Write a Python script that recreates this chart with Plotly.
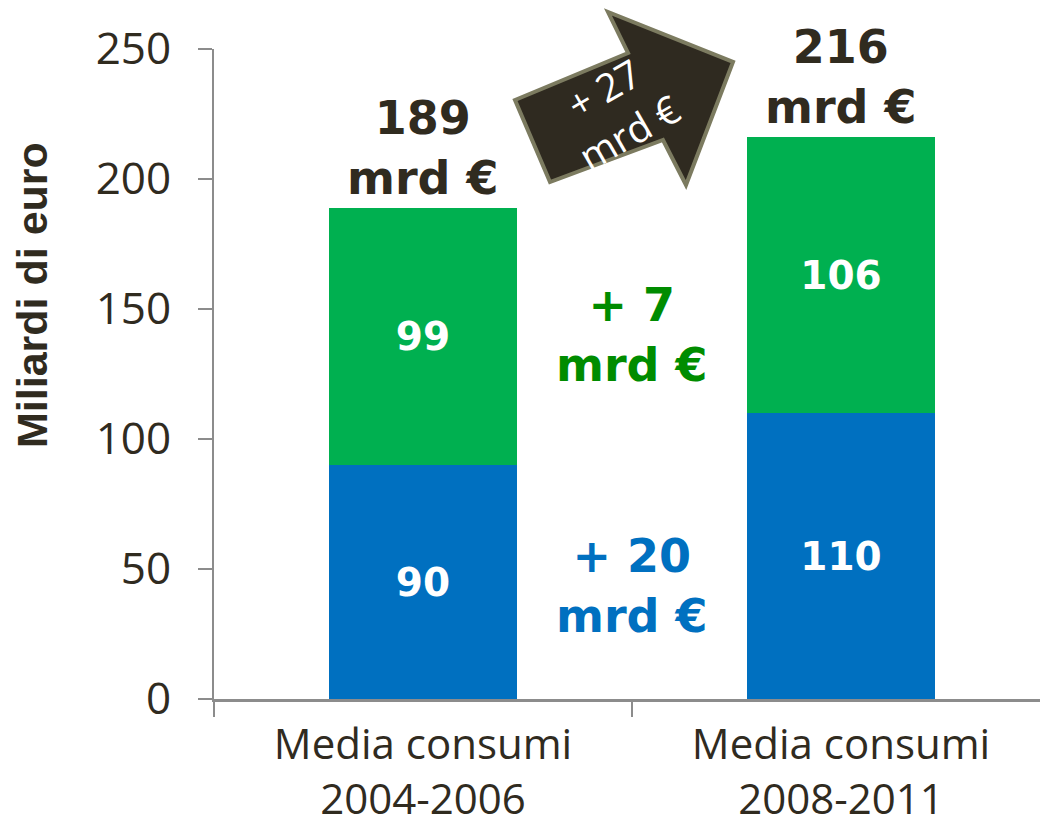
import plotly.graph_objects as go

# Data
categories = ["Media consumi<br>2004-2006", "Media consumi<br>2008-2011"]
blue_values = [90, 110]
green_values = [99, 106]
y_ticks = [0, 50, 100, 150, 200, 250]

totals = [b + g for b, g in zip(blue_values, green_values)]
delta_total = totals[1] - totals[0]
delta_blue = blue_values[1] - blue_values[0]
delta_green = green_values[1] - green_values[0]

BLUE = "#0070C0"
GREEN = "#00B050"
DARK = "#302B1F"
AXIS = "#8C8C8C"

W, H = 1040, 822
ML, MR, MT, MB = 214, 0, 49, 123
PW, PH = W - ML - MR, H - MT - MB


def px(x, y):
    """Pixel position on the page -> paper coordinates."""
    return (x - ML) / PW, (H - MB - y) / PH


bar_text = dict(family="DejaVu Sans", size=39, color="white", weight="bold")

fig = go.Figure()
fig.add_trace(go.Bar(
    x=categories, y=blue_values, marker=dict(color=BLUE, line=dict(width=0)),
    width=0.45, text=blue_values, textposition="inside",
    insidetextanchor="middle", textangle=0, textfont=bar_text,
    hoverinfo="skip",
))
fig.add_trace(go.Bar(
    x=categories, y=green_values, marker=dict(color=GREEN, line=dict(width=0)),
    width=0.45, text=green_values, textposition="inside",
    insidetextanchor="middle", textangle=0, textfont=bar_text,
    hoverinfo="skip",
))

annotations = []
bold = dict(family="DejaVu Sans", size=46, weight="bold")

# totals above each bar
for cat, tot in zip(categories, totals):
    annotations.append(dict(
        x=cat, y=tot, xref="x", yref="y", text=f"{tot}<br>mrd €",
        showarrow=False, yanchor="bottom", yshift=1,
        font=dict(bold, color=DARK),
    ))

# segment increases between the bars
annotations.append(dict(
    x=0.5, y=140, xref="x", yref="y", text=f"+ {delta_green}<br>mrd €",
    showarrow=False, font=dict(bold, color="#008C00"),
))
annotations.append(dict(
    x=0.5, y=43.5, xref="x", yref="y", text=f"+ {delta_blue}<br>mrd €",
    showarrow=False, font=dict(bold, color=BLUE),
))

# axis title
tx, ty = px(32, 295)
annotations.append(dict(
    x=tx, y=ty, xref="paper", yref="paper", text="Miliardi di euro",
    textangle=-90, showarrow=False, xanchor="center", yanchor="middle",
    font=dict(family="Liberation Sans", size=43, weight="bold", color=DARK),
))

# label on the arrow
ax_, ay_ = px(616, 110)
annotations.append(dict(
    x=ax_, y=ay_, xref="paper", yref="paper", text=f"+ {delta_total}<br>mrd €",
    textangle=-30, showarrow=False, xanchor="center", yanchor="middle",
    font=dict(family="Open Sans", size=39, color="white"),
))

# block arrow
arrow_pts = [(515, 100), (628, 53), (608, 12), (733, 62), (686, 185), (663, 140), (550, 182)]
path = "M " + " L ".join(f"{px(x, y)[0]:.5f},{px(x, y)[1]:.5f}" for x, y in arrow_pts) + " Z"
shapes = [dict(
    type="path", path=path, xref="paper", yref="paper",
    fillcolor="#2F2A20", line=dict(color="#7C7B60", width=4), layer="above",
)]

fig.update_layout(
    width=W, height=H,
    margin=dict(l=ML, r=MR, t=MT, b=MB),
    paper_bgcolor="white", plot_bgcolor="white",
    barmode="stack", showlegend=False,
    annotations=annotations, shapes=shapes,
    font=dict(family="Open Sans", color=DARK),
)
fig.update_xaxes(
    type="category", range=[-0.5, 1.476], tickson="boundaries",
    ticks="outside", ticklen=15, tickwidth=2, tickcolor=AXIS,
    showline=True, linecolor=AXIS, linewidth=3, showgrid=False,
    ticklabelstandoff=7, automargin=False,
    tickfont=dict(family="Open Sans", size=42, color=DARK),
    fixedrange=True,
)
fig.update_yaxes(
    range=[0, 250], tickvals=y_ticks, ticks="outside", ticklen=14,
    tickwidth=2, tickcolor=AXIS, showline=True, linecolor=AXIS, linewidth=2,
    showgrid=False, zeroline=False, ticklabelstandoff=18, automargin=False,
    tickfont=dict(family="Open Sans", size=44, color=DARK),
    fixedrange=True,
)

fig.write_html("out.html")
